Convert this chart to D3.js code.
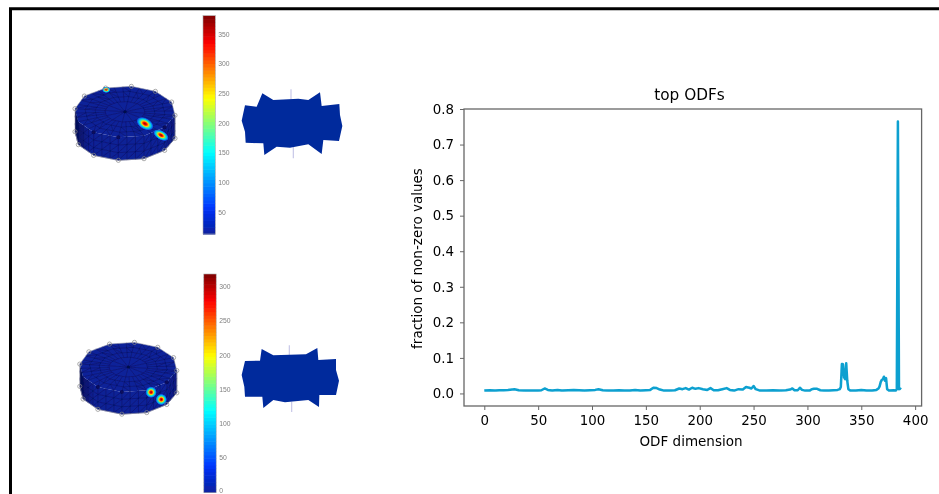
<!DOCTYPE html>
<html><head><meta charset="utf-8">
<script src="https://cdn.jsdelivr.net/npm/d3@7/dist/d3.min.js"></script>
<style>html,body{margin:0;padding:0;background:#fff;overflow:hidden}svg{display:block}text{font-family:"DejaVu Sans",sans-serif}</style>
</head><body><svg id="c" width="939" height="494"></svg>
<script>
// ---- line chart data
const odfDim = [0,5,10,14,18,22,28,32,38,44,50,53,56,59,63,68,72,78,83,88,93,98,103,106,110,115,120,125,130,135,140,145,150,154,157,160,163,167,172,177,181,184,187,190,193,196,199,203,207,210,213,217,221,225,228,232,236,240,243,246,248,250,252,256,262,268,274,280,284,286,288,291,293,295,298,302,304,306,309,312,316,320,324,328,330,331,332,333,334,335,336,337,338,340,345,350,355,360,364,366,367,368,369,370,371,372,373,374,376,380,382,383,384,385,386,387];
const odfFraction = [.008,.009,.008,.009,.009,.010,.012,.009,.008,.008,.008,.009,.014,.010,.008,.010,.008,.009,.010,.009,.008,.009,.010,.012,.009,.008,.008,.009,.008,.008,.010,.008,.009,.010,.016,.015,.011,.008,.008,.009,.014,.012,.015,.011,.016,.013,.015,.012,.010,.015,.009,.009,.012,.015,.010,.008,.012,.011,.018,.016,.014,.021,.012,.008,.008,.009,.008,.009,.011,.014,.009,.009,.016,.010,.008,.008,.012,.013,.013,.009,.008,.008,.009,.010,.012,.018,.083,.082,.045,.040,.085,.035,.012,.008,.008,.010,.008,.008,.010,.014,.020,.032,.038,.040,.047,.036,.043,.012,.008,.009,.008,.012,.765,.012,.014,.012];
const xTickVals = [0,50,100,150,200,250,300,350,400];
const yTickVals = [0,.1,.2,.3,.4,.5,.6,.7,.8];
const chartTitle = "top ODFs", xLabel = "ODF dimension", yLabel = "fraction of non-zero values";
// ---- colorbars
const bar1Ticks = [50,100,150,200,250,300,350], bar1Domain=[13.4,381];
const bar2Ticks = [0,50,100,150,200,250,300], bar2Domain=[0,318.5];
// ---- mesh rim (unit coords) and hot spots
const rimVerts = [[-.387,-.473],[.127,-.507],[.607,-.407],[.933,-.193],[1,.073],[.793,.313],[.38,.48],[-.133,.513],[-.627,.413],[-.933,.2],[-1,-.06],[-.813,-.313]];
const spots1 = [[-.375,-.44,.085,.065,0],[.40,.24,.19,.115,30],[.72,.47,.175,.095,30]];
const spots2 = [[.47,.52,.12,.12,0],[.68,.67,.12,.12,0]];
// ---- flattened views (outline in crop units)
const flat1 = [[725,362],[735,316],[770,320],[787,280],[820,300],[895,296],[925,300],[960,277],[965,318],[1018,312],[1020,345],[1027,378],[1017,423],[970,420],[965,462],[925,433],[870,443],[830,440],[793,465],[790,430],[737,428],[735,395]];
const flat2 = [[725,375],[735,333],[780,332],[785,297],[820,316],[918,313],[952,294],[955,330],[1008,327],[1008,360],[1017,392],[1008,435],[958,435],[957,471],[925,450],[855,457],[820,450],[790,474],[787,440],[735,440],[733,410]];

const svg = d3.select("#c");
const defs = svg.append("defs");
[["b1",.55],["b2",.42]].forEach(([id,s])=>defs.append("filter").attr("id",id).attr("x","-5%").attr("y","-5%").attr("width","110%").attr("height","110%").append("feGaussianBlur").attr("stdDeviation",s));

// frame
const frame = svg.append("g").attr("filter","url(#b2)");
frame.append("path").attr("d",d3.line()([[10.5,500],[10.5,8.8],[945,8.8]])).attr("fill","none").attr("stroke","#000").attr("stroke-width",3);

// jet
const jet = d3.scaleLinear().domain([0,.11,.125,.375,.5,.625,.875,1])
  .range(["#0a1f9e","#0030f0","#0038ff","#00ffff","#7fff7f","#ffff00","#ff0000","#7f0000"]);
const hs = defs.append("radialGradient").attr("id","hot");
[[0,"#8a0000"],[.22,"#ff1500"],[.4,"#ffd000"],[.56,"#30e8b0"],[.72,"#00b8f0"],[.88,"#0a50e0"],[1,"#0b2299"]].forEach(([o,c],i)=>{
  hs.append("stop").attr("offset",o).attr("stop-color",c).attr("stop-opacity",i==6?0:1);
});
const side = defs.append("linearGradient").attr("id","side");
[[0,"#050a4a"],[.05,"#0a1570"],[.14,"#0b2094"],[.92,"#0b2299"],[1,"#0a1c88"]].forEach(([o,c])=>side.append("stop").attr("offset",o).attr("stop-color",c));

function mesh(cx,cy,rx,spots){
  const g = svg.append("g").attr("filter","url(#b1)");
  const sx = d3.scaleLinear().domain([-1,1]).range([cx-rx,cx+rx]);
  const sy = d3.scaleLinear().domain([-1,1]).range([cy-rx,cy+rx]);
  const H = .46;
  const P = (p,dz=0)=>[sx(p[0]),sy(p[1]+dz)];
  const sub=[]; rimVerts.forEach((v,i)=>{const w=rimVerts[(i+1)%12];[0,1,2].forEach(k=>sub.push([v[0]+(w[0]-v[0])*k/3,v[1]+(w[1]-v[1])*k/3]));});
  const line=d3.line();
  const front=rimVerts.slice(4,11);
  const bodyPts=[...front.map(p=>P(p)),...front.slice().reverse().map(p=>P(p,H))];
  g.append("path").attr("d",line(bodyPts)+"Z").attr("fill","url(#side)");
  g.append("path").attr("d",line(rimVerts.map(p=>P(p)))+"Z").attr("fill","#0b2299");
  let d="";
  sub.forEach((p,i)=>{ if(i<12||i>=30) return; const q=sub[i+1];
    [0,1,2].forEach(r=>{const a=r/3,b=(r+1)/3;
      d+=line([P(p,H*a),P(p,H*b)])+line([P(p,H*a),P(q,H*b)])+line([P(q,H*b),P(p,H*b)]);});
  });
  g.append("path").attr("d",d).attr("fill","none").attr("stroke","#07105c").attr("stroke-width",.55).attr("stroke-opacity",.85);
  let t="";
  const rings=[.2,.4,.6,.8,1];
  sub.forEach((p,i)=>{const q=sub[(i+1)%36];
    rings.forEach((r,j)=>{const R=[p[0]*r,p[1]*r],Q=[q[0]*r,q[1]*r];
      const r0=j?rings[j-1]:0;
      if(j>0&&j<4) t+=line([P(R),P(Q)]);
      if(j>1||i%3==0) t+=line([P([p[0]*r0,p[1]*r0]),P(R)]);
      if(j>2&&i%2==0) t+=line([P([q[0]*r0,q[1]*r0]),P(R)]);
    });
  });
  g.append("path").attr("d",t).attr("fill","none").attr("stroke","#07105c").attr("stroke-width",.55).attr("stroke-opacity",.85);
  g.append("circle").attr("cx",sx(0)).attr("cy",sy(0)).attr("r",1.5).attr("fill","#050a4a");
  [1,3,4].forEach(i=>g.append("circle").attr("cx",sx(front[i][0])).attr("cy",sy(front[i][1])).attr("r",2).attr("fill","#07105c"));
  spots.forEach(s=>g.append("ellipse").attr("rx",sx(s[2])-sx(0)).attr("ry",sy(s[3])-sy(0)).attr("fill","url(#hot)")
     .attr("transform",`translate(${sx(s[0])},${sy(s[1])}) rotate(${s[4]})`));
  const hull=[...rimVerts.slice(10),...rimVerts.slice(0,5),...front.map(p=>[p[0],p[1]+H])];
  g.append("path").attr("d",line(hull.map(p=>P(p)))+"Z").attr("fill","none").attr("stroke","#9a9aaa").attr("stroke-width",.6);
  const nodes=[...rimVerts.slice(10).map(p=>P(p)),...rimVerts.slice(0,5).map(p=>P(p)),...front.map(p=>P(p,H))];
  g.selectAll("circle.n").data(nodes).join("circle").attr("class","n").attr("cx",d=>d[0]).attr("cy",d=>d[1]).attr("r",2.1).attr("fill","none").attr("stroke","#8a8a8a").attr("stroke-width",.7);
}
mesh(125,111.7,50,spots1);
mesh(128.3,367,48.5,spots2);

function flat(pts,oy,whisk){
  const sx=d3.scaleLinear().domain([0,3]).range([0,1]), sy=d3.scaleLinear().domain([0,3]).range([oy,oy+1]);
  const g=svg.append("g").attr("filter","url(#b1)");
  whisk.forEach(w=>g.append("path").attr("d",d3.line()([[sx(w[0]),sy(w[1])],[sx(w[0]),sy(w[2])]])).attr("stroke","#c8c8e8").attr("stroke-width",1.2));
  g.append("path").attr("d",d3.line()(pts.map(p=>[sx(p[0]),sy(p[1])]))+"Z").attr("fill","#042a9c");
}
flat(flat1,0,[[873,268,300],[880,440,475]]);
flat(flat2,250,[[868,286,316],[875,455,486]]);

function cbar(x0,x1,y0,y1,dom,ticks){
  const y=d3.scaleLinear().domain(dom).range([y1,y0]);
  const g=svg.append("g").attr("filter","url(#b2)");
  const n=64, lv=d3.range(n);
  const h=(y1-y0)/n;
  g.selectAll("rect").data(lv).join("rect").attr("x",x0).attr("width",x1-x0)
    .attr("y",i=>y(dom[0]+(dom[1]-dom[0])*(i+1)/n)).attr("height",h+.6).attr("fill",i=>jet((i+.5)/n));
  g.append("rect").attr("x",x0).attr("y",y0).attr("width",x1-x0).attr("height",y1-y0).attr("fill","none").attr("stroke","#aaa").attr("stroke-width",.6);
  const l=svg.append("g").attr("filter","url(#b2)");
  l.selectAll("text").data(ticks).join("text").attr("x",x1+3).attr("y",d=>Math.min(y(d)+2.4,493)).attr("font-size",6.8).style("font-family",'"Liberation Sans"').attr("fill","#808080").text(d=>d);
}
cbar(203,215.3,15.7,234,bar1Domain,bar1Ticks);
cbar(203.8,216.2,274,492.3,bar2Domain,bar2Ticks);

const x=d3.scaleLinear().domain([-18.85,406]).range([464,921.6]);
const y=d3.scaleLinear().domain([-.0353,.8]).range([406,109]);
const ch=svg.append("g").attr("filter","url(#b2)");
const axC="#666";
ch.append("rect").attr("x",464).attr("y",109).attr("width",457.6).attr("height",297).attr("fill","none").attr("stroke",axC).attr("stroke-width",1.3);
const ax=ch.append("g").attr("transform","translate(0,406)").call(d3.axisBottom(x).tickValues(xTickVals).tickSize(4).tickPadding(5).tickFormat(d3.format("d")));
const ay=ch.append("g").attr("transform","translate(464,0)").call(d3.axisLeft(y).tickValues(yTickVals).tickSize(4).tickPadding(6).tickFormat(d3.format(".1f")));
[ax,ay].forEach(a=>{a.select(".domain").remove();a.selectAll("line").attr("stroke",axC).attr("stroke-width",1);
  a.selectAll("text").attr("font-size",13.4).attr("font-family",'"DejaVu Sans"').attr("fill","#000");});
ch.append("path").datum(odfDim.map((d,i)=>[d,odfFraction[i]])).attr("fill","none").attr("stroke","#0aa0d0").attr("stroke-width",2.5).attr("stroke-linejoin","round")
  .attr("d",d3.line().x(d=>x(d[0])).y(d=>y(d[1])));
ch.append("text").attr("x",689.5).attr("y",100).attr("text-anchor","middle").attr("font-size",15.3).attr("fill","#000").text(chartTitle);
ch.append("text").attr("x",691).attr("y",446).attr("text-anchor","middle").attr("font-size",13.5).attr("fill","#000").text(xLabel);
ch.append("text").attr("transform","translate(422,258.5) rotate(-90)").attr("text-anchor","middle").attr("font-size",13.5).attr("fill","#000").text(yLabel);
</script></body></html>
